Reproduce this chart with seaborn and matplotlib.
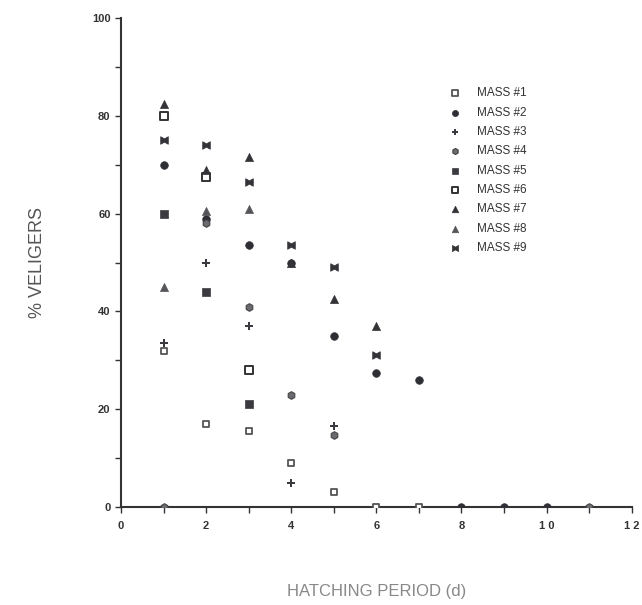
import numpy as np
import pandas as pd
import matplotlib
matplotlib.use("Agg")
import matplotlib.pyplot as plt
import seaborn as sns

sns.set_theme(style="ticks")
plt.rcParams['font.family'] = ['Liberation Sans', 'DejaVu Sans']

nan = np.nan
days = [1, 2, 3, 4, 5, 6, 7, 8, 9, 10, 11]
mass1 = [32, 17, 15.5, 9, 3, 0, 0, nan, nan, nan, nan]
mass2 = [70, 59, 53.5, 50, 35, 27.5, 26, 0, 0, 0, nan]
mass3 = [33.5, 50, 37, 5, 16.5, nan, nan, nan, nan, nan, nan]
mass4 = [0, 58, 41, 23, 14.8, nan, nan, nan, nan, nan, 0]
mass5 = [60, 44, 21, nan, nan, nan, nan, nan, nan, nan, nan]
mass6 = [80, 67.5, 28, nan, nan, nan, nan, nan, nan, nan, nan]
mass7 = [82.5, 69, 71.5, 50, 42.5, 37, nan, nan, nan, nan, nan]
mass8 = [45, 60.5, 61, nan, nan, nan, nan, nan, nan, nan, nan]
mass9 = [75, 74, 66.5, 53.5, 49, 31, nan, nan, nan, nan, nan]
labels = ["MASS #1", "MASS #2", "MASS #3", "MASS #4", "MASS #5",
          "MASS #6", "MASS #7", "MASS #8", "MASS #9"]
series = [mass1, mass2, mass3, mass4, mass5, mass6, mass7, mass8, mass9]

bowtie = [(-1, -1), (0, -0.45), (1, -1), (1, 1), (0, 0.45), (-1, 1), (-1, -1)]
styles = [
    dict(marker='s', color='white', edgecolor='#555', linewidth=1.3, s=22),
    dict(marker='o', color='#2e2e35', edgecolor='#2e2e35', linewidth=0.5, s=30),
    dict(marker='P', color='#3a3a40', edgecolor='#3a3a40', linewidth=0, s=28),
    dict(marker='h', color='#6a6a70', edgecolor='#444', linewidth=0.8, s=30),
    dict(marker='s', color='#3a3a40', edgecolor='#3a3a40', linewidth=0.5, s=26),
    dict(marker='s', color='white', edgecolor='#333', linewidth=1.4, s=26),
    dict(marker='^', color='#333338', edgecolor='#333338', linewidth=0.5, s=34),
    dict(marker='^', color='#55555a', edgecolor='#55555a', linewidth=0.5, s=34),
    dict(marker=bowtie, color='#333338', edgecolor='#333338', linewidth=0.5, s=30),
]

fig = plt.figure(figsize=(6.42, 6.05), dpi=100)
ax = fig.add_axes([0.1885, 0.162, 0.7955, 0.808])

for lab, vals, st in zip(labels, series, styles):
    df = pd.DataFrame({'day': days, 'pct': vals}).dropna()
    sns.scatterplot(data=df, x='day', y='pct', ax=ax, label=lab, zorder=3, **st)

ax.set_xlim(0, 12)
ax.set_ylim(0, 100)
ax.set_xticks(range(0, 13))
ax.set_xticklabels(["0", "", "2", "", "4", "", "6", "", "8", "", "1 0", "", "1 2"])
ax.set_yticks(range(0, 101, 10))
ax.set_yticklabels(["0", "", "20", "", "40", "", "60", "", "80", "", "100"])
ax.tick_params(axis='both', direction='out', length=4, width=1, colors='#333',
               labelsize=8)
for t in ax.get_xticklabels() + ax.get_yticklabels():
    t.set_fontweight('bold')
ax.tick_params(axis='x', pad=6)
sns.despine(ax=ax)
for sp in ['left', 'bottom']:
    ax.spines[sp].set_color('#333')
    ax.spines[sp].set_linewidth(1.5)

ax.set_xlabel("HATCHING PERIOD (d)", fontsize=12, color='#888', labelpad=38)
ax.set_ylabel("% VELIGERS", fontsize=13, color='#555', labelpad=33)

leg = ax.legend(loc='upper left', bbox_to_anchor=(0.61, 0.88), frameon=False,
                fontsize=8.5, handletextpad=0.9, labelspacing=0.62,
                markerscale=0.8)
for t in leg.get_texts():
    t.set_color('#333')

fig.savefig("out.png", dpi=100, facecolor='white')
